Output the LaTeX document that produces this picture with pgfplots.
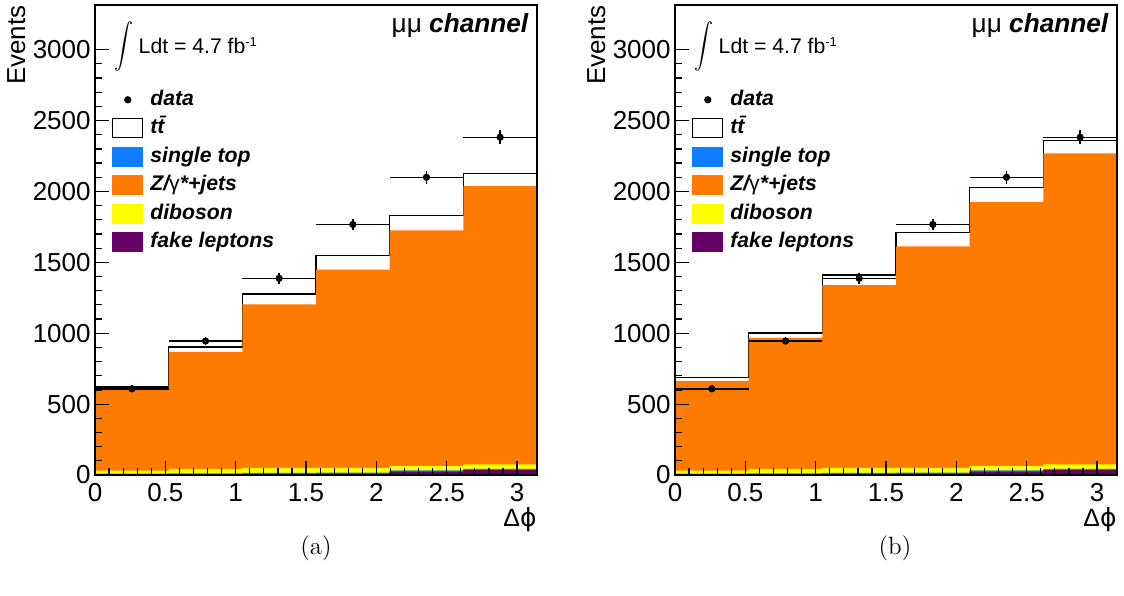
\documentclass[border=0pt]{standalone}
\usepackage{fontspec}
\newfontfamily\arial{Liberation Sans}
\newfontfamily\dejavu{DejaVu Sans}
\usepackage{graphicx}
\usepackage{pgfplots}
\pgfplotsset{compat=1.18}
\usepackage{pgfplotstable}

\definecolor{zorange}{RGB}{255,122,0}
\definecolor{stblue}{RGB}{15,125,255}
\definecolor{dbyellow}{RGB}{255,255,0}
\definecolor{fkpurple}{RGB}{102,0,102}

% cumulative stack tops: tt = total, z = Z+below, db = diboson+below, st = single top+below, fk = fake leptons
\pgfplotstableread{
x tt z db st fk
0.0000 620 598 30 9 4
0.5236 903 868 44 12 6
1.0472 1276 1204 51 15 8
1.5708 1549 1448 51 16 9
2.0944 1830 1725 63 33 24
2.6180 2124 2037 75 44 35
3.1416 2124 2037 75 44 35
}\stackA

\pgfplotstableread{
x tt z db st fk
0.0000 685 662 30 9 4
0.5236 1002 967 44 12 6
1.0472 1410 1340 51 15 8
1.5708 1713 1612 51 16 9
2.0944 2025 1924 63 33 24
2.6180 2358 2269 75 44 35
3.1416 2358 2269 75 44 35
}\stackB

\pgfplotstableread{
x y ex ey
0.2618 608 0.2618 25
0.7854 945 0.2618 31
1.3090 1387 0.2618 37
1.8326 1767 0.2618 42
2.3562 2100 0.2618 46
2.8798 2382 0.2618 49
}\datatab

\pgfplotsset{
  myaxis/.style={
    scale only axis, width=221pt, height=235pt,
    xmin=0, xmax=3.1416, ymin=0, ymax=3315,
    xtick={0,0.5,...,3}, ytick={0,500,...,3000},
    minor x tick num=4, minor y tick num=4,
    tick align=inside, tick pos=left,
    major tick length=7pt, minor tick length=3.5pt,
    axis on top,
    axis line style={line width=0.6pt},
    every tick/.style={black, line width=0.6pt},
    tick label style={font=\arial\fontsize{13}{15}\selectfont},
    /pgf/number format/assume math mode=true,
    /pgf/number format/1000 sep={},
    xticklabel style={inner sep=0pt, yshift=-4pt},
    yticklabel style={inner sep=0pt, xshift=-2pt},
    clip=false,
    legend cell align=left,
    legend style={at={(rel axis cs:0.038,0.82)}, anchor=north west, draw=none, fill=none,
      inner sep=0pt, row sep=4.3pt,
      font=\arial\bfseries\itshape\fontsize{10.6}{12}\selectfont,
      nodes={inner ysep=0pt, inner xsep=3.5pt, text height=7.6pt, text depth=2.2pt}},
  },
  boxleg/.style={legend image code/.code={\fill[#1] (0pt,-4.75pt) rectangle (15pt,4.75pt);}},
}

\newcommand{\stackplots}[1]{%
  \addplot[const plot, fill=white, draw=black, line width=0.6pt, forget plot] table[x=x,y=tt]{#1} \closedcycle;
  \addplot[const plot, fill=zorange, draw=none, forget plot] table[x=x,y=z]{#1} \closedcycle;
  \addplot[const plot, fill=dbyellow, draw=none, forget plot] table[x=x,y=db]{#1} \closedcycle;
  \addplot[const plot, fill=stblue, draw=none, forget plot] table[x=x,y=st]{#1} \closedcycle;
  \addplot[const plot, fill=fkpurple, draw=none, forget plot] table[x=x,y=fk]{#1} \closedcycle;
  \addplot[only marks, mark=*, mark size=1.6pt, black, forget plot,
    error bars/.cd, x dir=both, x explicit, y dir=both, y explicit, error mark=none,
    error bar style={line width=0.7pt, black}]
    table[x=x,y=y,x error=ex,y error=ey]{\datatab};
  \addlegendimage{legend image code/.code={\fill[black] (7.5pt,0pt) circle (1.6pt);}}
  \addlegendentry{data}
  \addlegendimage{legend image code/.code={\draw[black, fill=white, line width=0.6pt] (0pt,-4.75pt) rectangle (15pt,4.75pt);}}
  \addlegendentry{t\={t}}
  \addlegendimage{boxleg=stblue}
  \addlegendentry{single top}
  \addlegendimage{boxleg=zorange}
  \addlegendentry{Z/{\upshape\mdseries γ}*+jets}
  \addlegendimage{boxleg=dbyellow}
  \addlegendentry{diboson}
  \addlegendimage{boxleg=fkpurple}
  \addlegendentry{fake leptons}
  \node[anchor=base east, inner sep=0pt, font=\arial\fontsize{13.1}{15}\selectfont] at (rel axis cs:0.982,0.942) {μμ \textbf{\textit{channel}}};
  \node[anchor=center, inner sep=0pt] at (rel axis cs:0.0667,0.912) {\scalebox{0.95}[1.12]{$\displaystyle\int$}};
  \node[anchor=base west, inner sep=0pt, font=\arial\fontsize{10.6}{12}\selectfont] at (rel axis cs:0.098,0.897) {Ldt = 4.7 fb\raisebox{3.3pt}{\fontsize{6.5}{7}\selectfont -1}};
}

\begin{document}
\begin{tikzpicture}
\useasboundingbox (0,0) rectangle (562pt,297.5pt);
\begin{axis}[myaxis, at={(47.5pt,60pt)}, anchor=south west]
\stackplots{\stackA}
\end{axis}
\begin{axis}[myaxis, at={(337.5pt,60pt)}, anchor=south west]
\stackplots{\stackB}
\end{axis}
% axis titles
\node[rotate=90, anchor=base east, inner sep=0pt, font=\arial\fontsize{13}{15}\selectfont] at (12.5pt,295pt) {Events};
\node[rotate=90, anchor=base east, inner sep=0pt, font=\arial\fontsize{13}{15}\selectfont] at (302.5pt,295pt) {Events};
\node[anchor=base east, inner sep=0pt, font=\arial\fontsize{12.5}{14}\selectfont] at (268.5pt,34.25pt) {Δ{\dejavu ϕ}};
\node[anchor=base east, inner sep=0pt, font=\arial\fontsize{12.5}{14}\selectfont] at (558.5pt,34.25pt) {Δ{\dejavu ϕ}};
% captions
\node[anchor=center, font=\fontsize{12.5}{14}\selectfont] at (158pt,23.5pt) {(a)};
\node[anchor=center, font=\fontsize{12.5}{14}\selectfont] at (447.5pt,23.5pt) {(b)};
\end{tikzpicture}
\end{document}
